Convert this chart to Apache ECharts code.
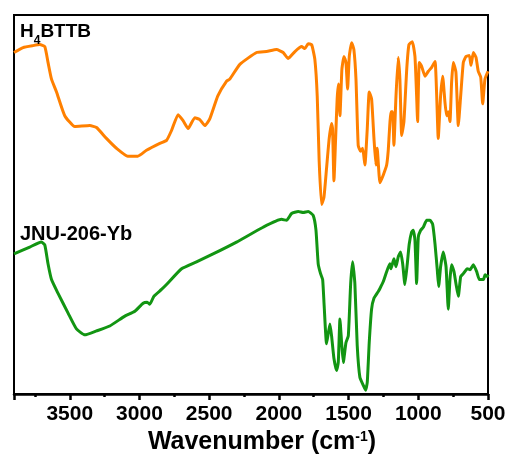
<!DOCTYPE html>
<html>
<head>
<meta charset="utf-8">
<script src="https://cdn.jsdelivr.net/npm/echarts@6/dist/echarts.min.js"></script>
<style>
  html, body { margin: 0; padding: 0; background: #fff; }
  #chart { width: 510px; height: 460px; }
</style>
</head>
<body>
<div id="chart"></div>
<script>
// FT-IR spectra: ligand H4BTTB and the JNU-206-Yb framework (offset, arbitrary transmittance units)
const wnH4BTTB = [3900, 3835, 3763, 3715, 3679, 3656, 3631, 3595, 3536, 3464, 3356, 3308, 3237, 3165, 3084, 3012,
  2950, 2854, 2806, 2770, 2723, 2687, 2651, 2603, 2567, 2531, 2495, 2438, 2375, 2352, 2280, 2160, 2088, 2017, 1969,
  1933, 1885, 1837, 1813, 1790, 1765, 1742, 1725, 1711, 1694, 1677, 1658, 1639, 1622, 1615, 1605, 1593, 1582, 1572,
  1562, 1548, 1533, 1519, 1507, 1495, 1478, 1462, 1447, 1431, 1414, 1399, 1383, 1366, 1352, 1335, 1318, 1304, 1295,
  1275, 1251, 1227, 1216, 1196, 1184, 1175, 1160, 1144, 1132, 1119, 1103, 1083, 1067, 1043, 1024, 1012, 1005, 993,
  976, 952, 928, 904, 880, 868, 857, 840, 825, 809, 797, 785, 773, 761, 749, 730, 713, 696, 677, 658, 634, 622, 605,
  586, 570, 552, 538, 522, 500];
const tH4BTTB = [346, 351, 353, 354, 352, 336, 319, 306, 282, 271, 272, 270, 259, 249, 241, 241,
  247, 254, 257, 267, 283, 277, 269, 280, 278, 272, 279, 302, 317, 319, 334, 346, 347, 349, 346,
  340, 347, 352, 350, 355, 354, 339, 302, 236, 192, 199, 229, 259, 274, 269, 216, 259, 299, 314,
  282, 329, 342, 336, 309, 342, 356, 349, 319, 252, 246, 249, 232, 269, 306, 299, 259, 232, 249,
  214, 222, 232, 246, 286, 286, 252, 302, 341, 319, 262, 276, 329, 354, 357, 342, 302, 276, 336,
  332, 322, 327, 331, 337, 302, 259, 302, 322, 296, 282, 286, 276, 316, 336, 326, 272, 302, 336, 342, 343, 333, 346,
  341, 327, 321, 294, 319, 327];

const wnJNU206Yb = [3900, 3787, 3703, 3679, 3656, 3631, 3584, 3512, 3452, 3392, 3308, 3213, 3105, 3033, 2974, 2945,
  2926, 2897, 2842, 2806, 2698, 2591, 2472, 2304, 2113, 1981, 1945, 1909, 1861, 1826, 1790, 1754, 1734, 1718, 1701,
  1686, 1675, 1658, 1634, 1622, 1605, 1586, 1574, 1562, 1550, 1538, 1519, 1502, 1485, 1471, 1455, 1438, 1419, 1395,
  1378, 1366, 1352, 1335, 1318, 1287, 1275, 1251, 1227, 1204, 1196, 1175, 1160, 1144, 1127, 1112, 1096, 1079, 1065,
  1048, 1036, 1024, 1012, 1000, 983, 964, 940, 916, 897, 880, 864, 854, 840, 821, 801, 785, 773, 761, 744, 730, 713,
  696, 677, 649, 629, 605, 581, 562, 533, 521, 505, 500];
const tJNU206Yb = [142, 149, 154, 151, 132, 116, 102, 82, 66, 60, 64, 69, 79, 84, 92, 93,
  91, 99, 106, 111, 127, 134, 142, 154, 169, 177, 176, 183, 185, 184, 185, 181, 166, 132, 122,
  116, 89, 51, 71, 59, 36, 24, 32, 76, 52, 32, 52, 59, 112, 134, 112, 49, 17, 9,
  4, 12, 52, 86, 97, 104, 107, 114, 124, 132, 127, 137, 129, 139, 144, 132, 111, 132, 152,
  164, 166, 156, 112, 159, 166, 169, 176, 176, 172, 152, 126, 109, 129, 144, 129, 86, 116, 131, 124, 112, 99,
  119, 122, 127, 126, 131, 124, 116, 116, 121, 119, 121];

const xTicks = [500, 1000, 1500, 2000, 2500, 3000, 3500];

const zip = (xs, ys) => xs.map((x, i) => [x, ys[i]]);

const FONT = 'Liberation Sans, Arial, sans-serif';

const chart = echarts.init(document.getElementById('chart'), null, { renderer: 'canvas' });

chart.setOption({
  animation: false,
  backgroundColor: '#ffffff',
  grid: {
    left: 14, right: 22, top: 15, bottom: 62,
    show: true, borderColor: '#000', borderWidth: 2, backgroundColor: 'transparent'
  },
  xAxis: {
    type: 'value',
    inverse: true,
    min: 500,
    max: 3900,
    interval: 500,
    name: 'Wavenumber (cm{sup|-1})',
    nameLocation: 'middle',
    nameGap: 32,
    nameTextStyle: {
      fontFamily: FONT,
      fontWeight: 'bold',
      fontSize: 25,
      color: '#000',
      padding: [0, 0, 0, 22],
      rich: {
        sup: {
          fontFamily: FONT,
          fontWeight: 'bold',
          fontSize: 14,
          color: '#000',
          verticalAlign: 'top',
          padding: [0, 0, 10, 0]
        }
      }
    },
    axisLine: { show: true, lineStyle: { color: '#000', width: 2.5 } },
    axisTick: { show: true, inside: false, length: 6, lineStyle: { color: '#000', width: 2.5 } },
    minorTick: { show: true, splitNumber: 2, length: 3, lineStyle: { color: '#000', width: 2.5 } },
    splitLine: { show: false },
    axisLabel: {
      show: true,
      margin: 10,
      fontFamily: FONT,
      fontWeight: 'bold',
      fontSize: 21,
      color: '#000',
      showMaxLabel: false,
      formatter: v => (xTicks.indexOf(v) >= 0 ? String(v) : '')
    }
  },
  yAxis: {
    type: 'value',
    min: 0,
    max: 384,
    axisLine: { show: false },
    axisTick: { show: false },
    axisLabel: { show: false },
    splitLine: { show: false }
  },
  series: [
    {
      name: 'H4BTTB',
      type: 'line',
      data: zip(wnH4BTTB, tH4BTTB),
      showSymbol: false,
      symbol: 'none',
      smooth: 0.15,
      lineStyle: { color: '#FF8000', width: 3, join: 'round' },
      z: 3
    },
    {
      name: 'JNU-206-Yb',
      type: 'line',
      data: zip(wnJNU206Yb, tJNU206Yb),
      showSymbol: false,
      symbol: 'none',
      smooth: 0.15,
      lineStyle: { color: '#129512', width: 3, join: 'round' },
      z: 3
    }
  ],
  graphic: [
    {
      type: 'text',
      left: 20,
      top: 22,
      z: 10,
      style: {
        text: '{m|H}{s|4}{m|BTTB}',
        rich: {
          m: { fontFamily: FONT, fontWeight: 'bold', fontSize: 19, fill: '#000', verticalAlign: 'top', lineHeight: 25 },
          s: { fontFamily: FONT, fontWeight: 'bold', fontSize: 12, fill: '#000', verticalAlign: 'bottom', lineHeight: 25 }
        }
      }
    },
    {
      type: 'text',
      left: 20,
      top: 224,
      z: 10,
      style: {
        text: 'JNU-206-Yb',
        fontFamily: FONT,
        fontWeight: 'bold',
        fontSize: 20,
        fill: '#000'
      }
    }
  ]
});
</script>
</body>
</html>
